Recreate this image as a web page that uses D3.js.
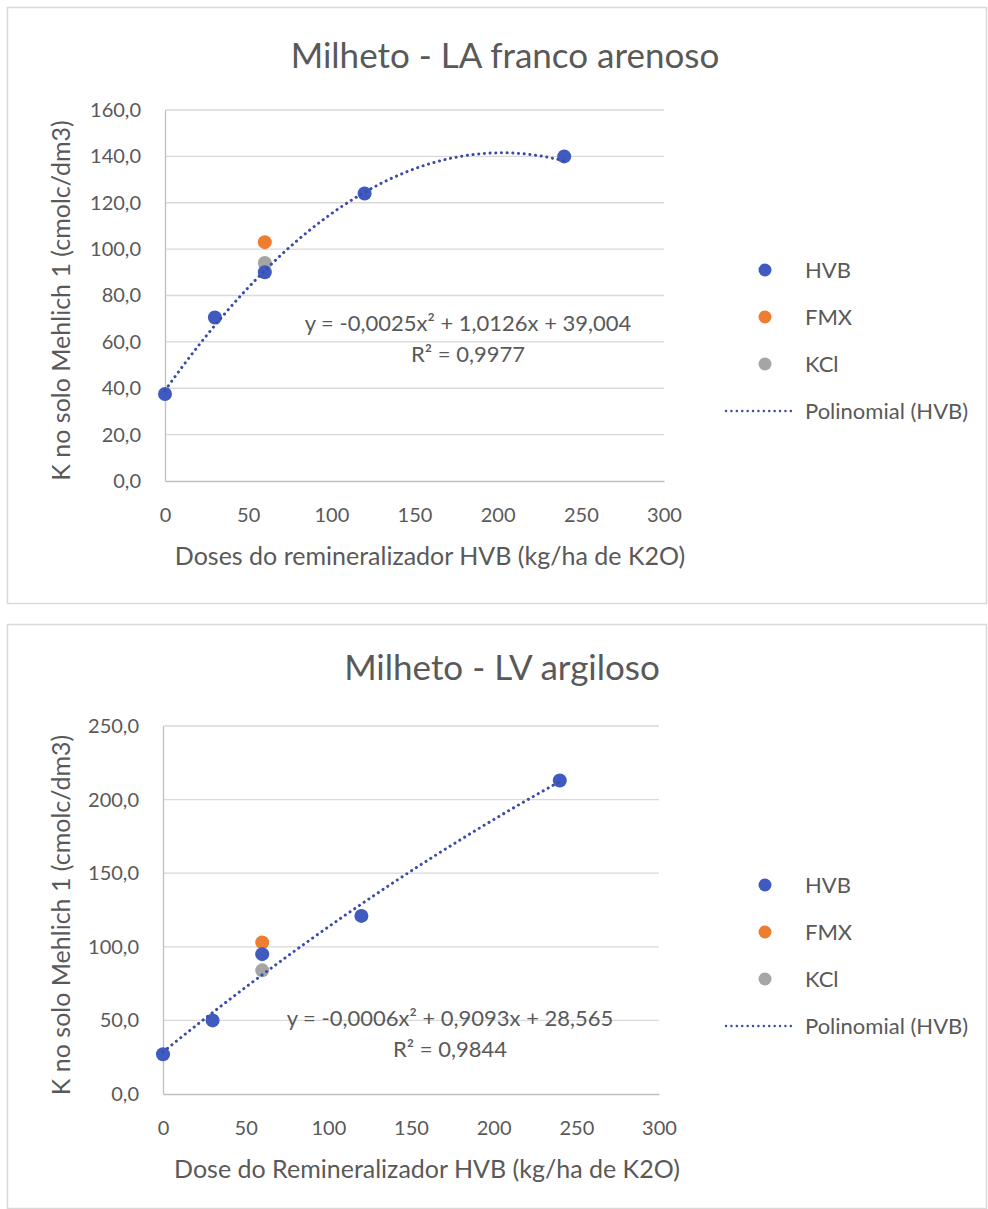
<!DOCTYPE html>
<html><head><meta charset="utf-8">
<script src="https://cdn.jsdelivr.net/npm/d3@7"></script>
<style>
html,body{margin:0;padding:0;background:#fff;}
text{font-family:Lato,"Open Sans",sans-serif;fill:#595959;}
</style></head>
<body>
<svg id="chart" width="988" height="1209"></svg>
<script>
// ---- data ----
const doses = [0, 30, 60, 120, 240];
const xTicks = [0, 50, 100, 150, 200, 250, 300];

// Chart 1: Milheto - LA franco arenoso
const c1Title = "Milheto - LA franco arenoso";
const c1XLabel = "Doses do remineralizador HVB (kg/ha de K2O)";
const c1HVB = [37.5, 70.5, 90, 124, 140];
const c1FMX = [[60, 103]];
const c1KCl = [[60, 94]];
const c1YTicks = [0, 20, 40, 60, 80, 100, 120, 140, 160];
const c1Coef = [-0.0025, 1.0126, 39.004];
const c1Eq = ["y = -0,0025x² + 1,0126x + 39,004", "R² = 0,9977"];

// Chart 2: Milheto - LV argiloso
const c2Title = "Milheto - LV argiloso";
const c2XLabel = "Dose do Remineralizador HVB (kg/ha de K2O)";
const c2HVB = [27, 50, 95, 121, 213];
const c2FMX = [[60, 103]];
const c2KCl = [[60, 84]];
const c2YTicks = [0, 50, 100, 150, 200, 250];
const c2Coef = [-0.0006, 0.9093, 28.565];
const c2Eq = ["y = -0,0006x² + 0,9093x + 28,565", "R² = 0,9844"];

const yLabel = "K no solo Mehlich 1 (cmolc/dm3)";
const legendNames = ["HVB", "FMX", "KCl", "Polinomial (HVB)"];
const colors = {HVB: "#3f5bc0", FMX: "#ed7d31", KCl: "#a5a5a5", trend: "#3a4ca8"};

const svg = d3.select("#chart");
const fmt = v => d3.format(".1f")(v).replace(".", ",");

function drawChart(cfg) {
  const g = svg.append("g");
  g.append("rect").attr("x", cfg.frame[0] + 0.5).attr("y", cfg.frame[1] + 0.5)
    .attr("width", cfg.frame[2]).attr("height", cfg.frame[3])
    .attr("fill", "#fff").attr("stroke", "#d9d9d9").attr("stroke-width", 1.5);

  const x = d3.scaleLinear().domain([0, 300]).range([cfg.plot[0], cfg.plot[1]]);
  const y = d3.scaleLinear().domain([0, d3.max(cfg.yTicks)]).range([cfg.plot[3], cfg.plot[2]]);

  // gridlines
  g.append("g").selectAll("line").data(cfg.yTicks.filter(d => d > 0)).join("line")
    .attr("x1", x(0)).attr("x2", x(300)).attr("y1", d => y(d)).attr("y2", d => y(d))
    .attr("stroke", "#d9d9d9").attr("stroke-width", 1.3);
  // axes
  const yAxis = g.append("g").attr("transform", `translate(${x(0)},0)`)
    .call(d3.axisLeft(y).tickValues(cfg.yTicks).tickFormat(fmt).tickSize(0).tickPadding(24));
  yAxis.select(".domain").attr("stroke", "#bfbfbf").attr("stroke-width", 1.3);
  yAxis.selectAll("text").style("font-size", "20px").attr("fill", "#595959");
  const xAxis = g.append("g").attr("transform", `translate(0,${y(0)})`)
    .call(d3.axisBottom(x).tickValues(xTicks).tickSize(0).tickPadding(27));
  xAxis.select(".domain").attr("stroke", "#bfbfbf").attr("stroke-width", 1.3);
  xAxis.selectAll("text").style("font-size", "20px").attr("fill", "#595959");

  // title
  g.append("text").attr("x", cfg.titlePos[0]).attr("y", cfg.titlePos[1]).attr("text-anchor", "middle")
    .style("font-size", "35px").text(cfg.title);
  // axis titles
  g.append("text").attr("x", cfg.xLabelX).attr("y", y(0) + 84).attr("text-anchor", "middle")
    .style("font-size", "25px").text(cfg.xLabel);
  g.append("text").attr("transform", `translate(70,${(y(0) + y(d3.max(cfg.yTicks))) / 2 + 5}) rotate(-90)`)
    .attr("text-anchor", "middle").style("font-size", "25px").text(yLabel);

  // points
  const hvbPts = doses.map((d, i) => [d, cfg.hvb[i]]);
  const series = [["KCl", cfg.kcl], ["FMX", cfg.fmx], ["HVB", hvbPts]];
  series.forEach(([name, pts]) => {
    g.append("g").selectAll("circle").data(pts).join("circle")
      .attr("cx", d => x(d[0])).attr("cy", d => y(d[1])).attr("r", 7)
      .attr("fill", colors[name]);
  });

  // trendline from displayed polynomial coefficients
  const xs = d3.range(0, 240.5, 2);
  const poly = v => cfg.coef[0] * v * v + cfg.coef[1] * v + cfg.coef[2];
  g.append("path").datum(xs)
    .attr("d", d3.line().x(d => x(d)).y(d => y(poly(d))))
    .attr("fill", "none").attr("stroke", colors.trend).attr("stroke-width", 3)
    .attr("stroke-linecap", "round").attr("stroke-dasharray", "0.1 5.6");

  // equation
  g.append("text").attr("x", cfg.eqPos[0]).attr("y", cfg.eqPos[1]).attr("text-anchor", "middle")
    .style("font-size", "22px").text(cfg.eq[0]);
  g.append("text").attr("x", cfg.eqPos[0]).attr("y", cfg.eqPos[1] + 31).attr("text-anchor", "middle")
    .style("font-size", "22px").text(cfg.eq[1]);

  // legend
  const lg = g.append("g");
  legendNames.forEach((name, i) => {
    const ly = cfg.legendY + i * 47;
    if (i < 3) {
      lg.append("circle").attr("cx", 765).attr("cy", ly).attr("r", 6.5).attr("fill", colors[name]);
    } else {
      lg.append("line").attr("x1", 726).attr("x2", 791).attr("y1", ly).attr("y2", ly)
        .attr("stroke", colors.trend).attr("stroke-width", 2.4).attr("stroke-linecap", "round")
        .attr("stroke-dasharray", "0.1 5.3");
    }
    lg.append("text").attr("x", 805).attr("y", ly + 8).style("font-size", "22px").text(name);
  });
}

drawChart({frame: [7, 7, 979, 596], plot: [165, 664, 110, 481], yTicks: c1YTicks,
  title: c1Title, titlePos: [505, 68], xLabel: c1XLabel, xLabelX: 430, hvb: c1HVB, fmx: c1FMX, kcl: c1KCl,
  coef: c1Coef, eq: c1Eq, eqPos: [468, 331], legendY: 270});
drawChart({frame: [7, 624, 979, 584], plot: [163, 659, 726, 1094], yTicks: c2YTicks,
  title: c2Title, titlePos: [502, 680], xLabel: c2XLabel, xLabelX: 427, hvb: c2HVB, fmx: c2FMX, kcl: c2KCl,
  coef: c2Coef, eq: c2Eq, eqPos: [450, 1026], legendY: 885});
</script>
</body></html>
